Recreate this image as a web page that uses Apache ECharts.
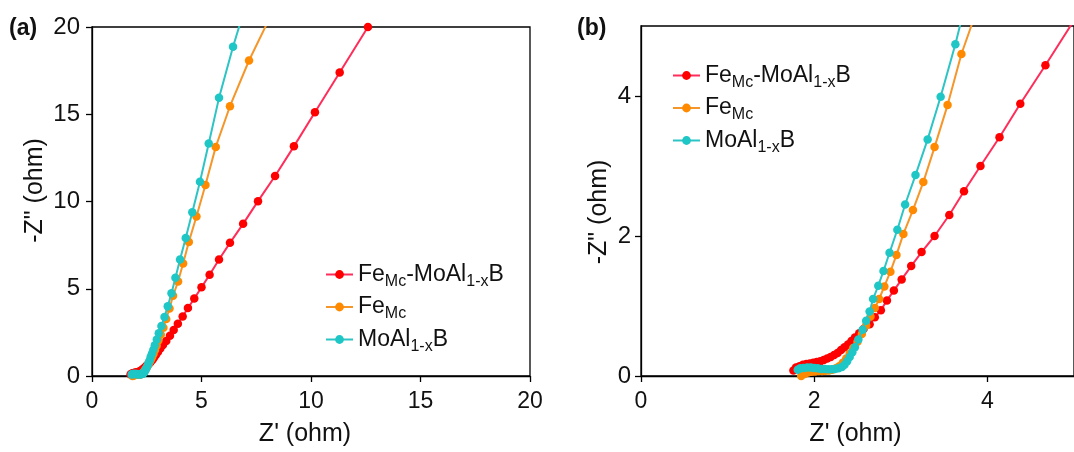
<!DOCTYPE html>
<html>
<head>
<meta charset="utf-8">
<script src="https://cdn.jsdelivr.net/npm/echarts@6/dist/echarts.min.js"></script>
<style>
html,body{margin:0;padding:0;background:#fff;}
#chart{width:1074px;height:452px;}
</style>
</head>
<body>
<div id="chart"></div>
<script>
// Series names
const seriesNames = ['FeMc-MoAl1-xB', 'FeMc', 'MoAl1-xB'];
const legendRich = {
  'FeMc-MoAl1-xB': '{n|Fe}{s|Mc}{n|-MoAl}{s|1-x}{n|B}',
  'FeMc': '{n|Fe}{s|Mc}',
  'MoAl1-xB': '{n|MoAl}{s|1-x}{n|B}'
};
// Axis ticks
const ticksA = [0, 5, 10, 15, 20];
const ticksB = [0, 2, 4];

// Nyquist data [Z', -Z''] (ohm)
const feMoAlB = [
  [1.76,0.08],[1.79,0.12],[1.83,0.14],[1.87,0.16],[1.91,0.17],[1.95,0.18],[1.99,0.19],[2.03,0.20],
  [2.07,0.21],[2.11,0.23],[2.15,0.25],[2.19,0.27],[2.23,0.30],[2.27,0.33],[2.31,0.37],[2.35,0.41],
  [2.39,0.45],[2.43,0.50],[2.47,0.55],[2.52,0.61],[2.57,0.67],[2.64,0.74],[2.70,0.84],[2.77,0.94],
  [2.84,1.08],[2.92,1.22],[3.01,1.38],[3.12,1.57],[3.24,1.77],[3.39,2.00],[3.56,2.30],[3.73,2.64],
  [3.92,3.00],[4.14,3.41],[4.38,3.89],[4.67,4.44],[5.00,5.08],[5.37,5.80],[5.80,6.68],[6.30,7.63],
  [6.90,8.72],[7.58,10.02],[8.36,11.46],[9.22,13.16],[10.18,15.12],[11.31,17.39],[12.60,20.00]
];
const feMc = [
  [1.85,0.00],[1.89,0.03],[1.93,0.05],[1.97,0.06],[2.01,0.065],[2.05,0.07],[2.09,0.07],[2.13,0.075],
  [2.17,0.08],[2.21,0.09],[2.25,0.11],[2.29,0.14],[2.33,0.19],[2.37,0.25],[2.41,0.32],[2.45,0.40],
  [2.50,0.49],[2.55,0.60],[2.60,0.72],[2.65,0.85],[2.70,0.97],[2.75,1.10],[2.81,1.28],[2.88,1.49],
  [2.95,1.73],[3.03,2.03],[3.14,2.37],[3.26,2.77],[3.39,3.27],[3.54,3.87],[3.70,4.60],[3.93,5.41],
  [4.16,6.45],[4.42,7.68],[4.77,9.14],[5.18,10.94],[5.65,13.13],[6.30,15.46],[7.17,18.08],[8.30,21.00]
];
const moAlB = [
  [1.81,0.09],[1.84,0.11],[1.88,0.115],[1.92,0.12],[1.96,0.12],[2.00,0.115],[2.04,0.11],[2.08,0.10],
  [2.12,0.10],[2.16,0.095],[2.20,0.095],[2.24,0.10],[2.28,0.11],[2.32,0.13],[2.35,0.16],[2.38,0.21],
  [2.41,0.27],[2.44,0.34],[2.47,0.41],[2.51,0.52],[2.56,0.66],[2.60,0.79],[2.64,0.92],[2.68,1.10],
  [2.74,1.29],[2.80,1.50],[2.87,1.76],[2.96,2.09],[3.05,2.45],[3.17,2.87],[3.31,3.38],[3.46,3.99],
  [3.63,4.74],[3.81,5.63],[4.02,6.68],[4.28,7.91],[4.58,9.39],[4.93,11.13],[5.33,13.32],[5.80,15.94],
  [6.44,18.87],[7.20,22.00]
];

const seriesData = [feMoAlB, feMc, moAlB];
const lineColors = ['#ff2d5a', '#f5962a', '#2cc4c4'];
const markerColors = ['#ff0000', '#ff8a00', '#1fc6c6'];

const FONT = '"Liberation Sans", Arial, sans-serif';

function makeAxisX(gi, min, max, interval, namePad) {
  return {
    gridIndex: gi, type: 'value', min: min, max: max, interval: interval,
    axisLine: {show: true, onZero: false, lineStyle: {color: '#000', width: 1.3}},
    axisTick: {show: true, inside: false, length: 6, lineStyle: {color: '#000', width: 1.3}},
    splitLine: {show: false},
    axisLabel: {fontSize: 23, color: '#111', fontFamily: FONT, margin: 14, showMaxLabel: max % interval === 0},
    name: "Z' (ohm)", nameLocation: 'middle', nameGap: 46,
    nameTextStyle: {fontSize: 25, color: '#111', fontFamily: FONT, padding: namePad}
  };
}
function makeAxisY(gi, min, max, interval, margin, nameGap, namePad) {
  return {
    gridIndex: gi, type: 'value', min: min, max: max, interval: interval,
    axisLine: {show: true, onZero: false, lineStyle: {color: '#000', width: 1.3}},
    axisTick: {show: true, inside: false, length: 6, lineStyle: {color: '#000', width: 1.3}},
    splitLine: {show: false},
    axisLabel: {fontSize: 24, color: '#111', fontFamily: FONT, margin: margin, showMaxLabel: max % interval === 0},
    name: '-Z" (ohm)', nameLocation: 'middle', nameGap: nameGap,
    nameTextStyle: {fontSize: 25, color: '#111', fontFamily: FONT, padding: namePad}
  };
}

const series = [];
[0, 1].forEach(function (gi) {
  seriesData.forEach(function (d, i) {
    series.push({
      name: seriesNames[i], type: 'line', xAxisIndex: gi, yAxisIndex: gi,
      data: d, symbol: 'circle', symbolSize: 8.5, showAllSymbol: true,
      lineStyle: {color: lineColors[i], width: 2},
      itemStyle: {color: markerColors[i]},
      z: 2 + i, animation: false, clip: true
    });
  });
});

const legendText = {
  fontSize: 22, color: '#111', fontFamily: FONT,
  rich: {
    n: {fontSize: 23, color: '#111', fontFamily: FONT, lineHeight: 30, verticalAlign: 'middle'},
    s: {fontSize: 16, color: '#111', fontFamily: FONT, lineHeight: 14, verticalAlign: 'bottom'}
  }
};
function makeLegend(left, top) {
  return {
    data: seriesNames, orient: 'vertical', left: left, top: top,
    itemWidth: 27, itemHeight: 11, itemGap: 6,
    formatter: function (name) { return legendRich[name]; },
    textStyle: legendText, selectedMode: false
  };
}

const option = {
  animation: false,
  backgroundColor: '#fff',
  grid: [
    {left: 92, right: 544, top: 27, bottom: 74, show: true, borderColor: '#000', borderWidth: 1.3, backgroundColor: 'transparent'},
    {left: 641, right: -7, top: 26, bottom: 74, show: true, borderColor: '#000', borderWidth: 1.3, backgroundColor: 'transparent'}
  ],
  xAxis: [makeAxisX(0, ticksA[0], ticksA[ticksA.length - 1], ticksA[1] - ticksA[0], [0, 12, 0, 0]),
          makeAxisX(1, ticksB[0], 5, ticksB[1] - ticksB[0], [0, 4, 0, 0])],
  yAxis: [makeAxisY(0, ticksA[0], ticksA[ticksA.length - 1], ticksA[1] - ticksA[0], 12, 44, [0, 0, 0, 22]),
          makeAxisY(1, ticksB[0], 5, ticksB[1] - ticksB[0], 10, 29, [0, 22, 0, 0])],
  legend: [makeLegend(320, 258), makeLegend(667, 59)],
  series: series,
  graphic: [
    {type: 'text', left: 9, top: 17, style: {text: '(a)', fontSize: 23, fontWeight: 'bold', fill: '#111', fontFamily: FONT}},
    {type: 'text', left: 577, top: 17, style: {text: '(b)', fontSize: 23, fontWeight: 'bold', fill: '#111', fontFamily: FONT}}
  ]
};

const chart = echarts.init(document.getElementById('chart'), null, {renderer: 'canvas'});
chart.setOption(option);
</script>
</body>
</html>
